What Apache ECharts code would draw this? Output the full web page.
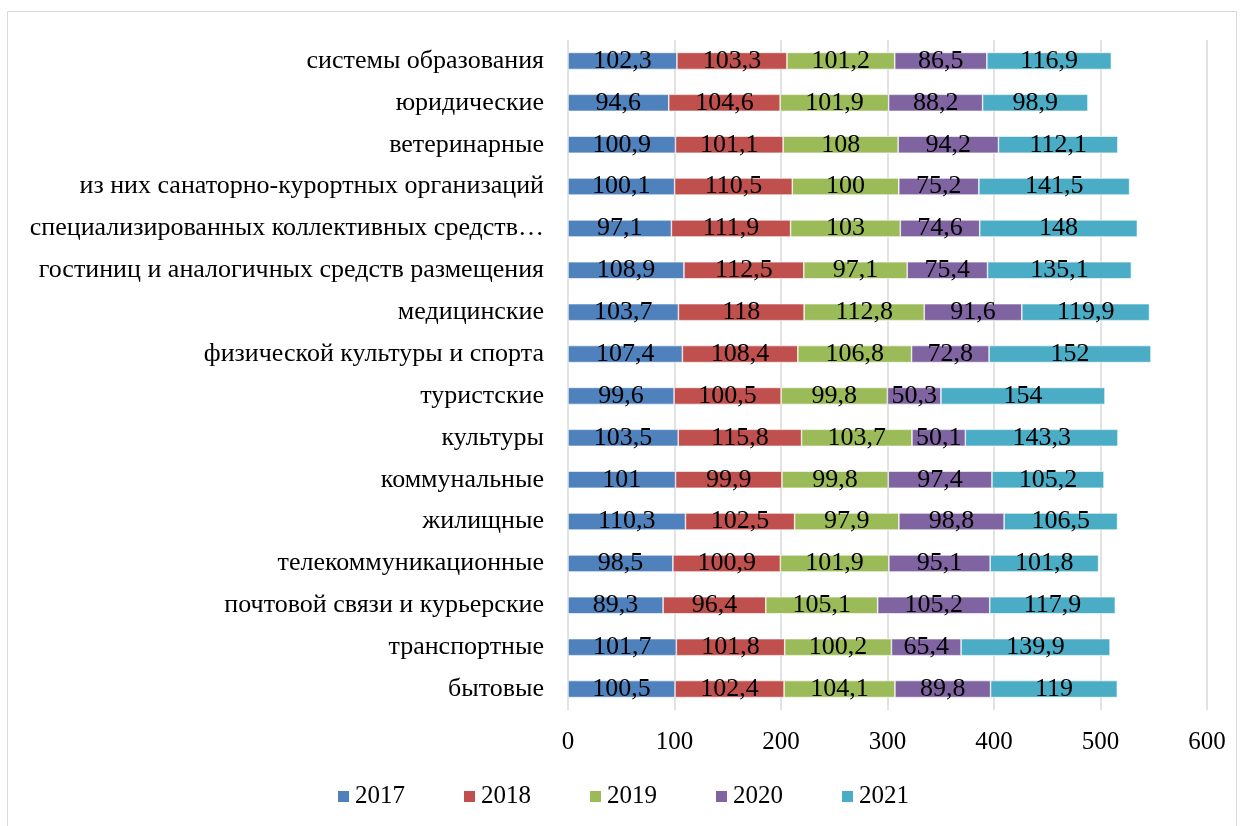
<!DOCTYPE html>
<html>
<head>
<meta charset="utf-8">
<script src="https://cdn.jsdelivr.net/npm/echarts@6/dist/echarts.min.js"></script>
<style>
  html, body { margin: 0; padding: 0; background: #fff; }
  #chart { width: 1245px; height: 826px; }
</style>
</head>
<body>
<div id="chart"></div>
<script>
// категории снизу вверх (ось категорий в echarts идёт снизу)
var categories = [
  'бытовые',
  'транспортные',
  'почтовой связи и курьерские',
  'телекоммуникационные',
  'жилищные',
  'коммунальные',
  'культуры',
  'туристские',
  'физической культуры и спорта',
  'медицинские',
  'гостиниц и аналогичных средств размещения',
  'специализированных коллективных средств…',
  'из них санаторно-курортных организаций',
  'ветеринарные',
  'юридические',
  'системы образования'
]
var years = ['2017', '2018', '2019', '2020', '2021']

var v2017 = [100.5, 101.7, 89.3, 98.5, 110.3, 101, 103.5, 99.6, 107.4, 103.7, 108.9, 97.1, 100.1, 100.9, 94.6, 102.3]
var v2018 = [102.4, 101.8, 96.4, 100.9, 102.5, 99.9, 115.8, 100.5, 108.4, 118, 112.5, 111.9, 110.5, 101.1, 104.6, 103.3]
var v2019 = [104.1, 100.2, 105.1, 101.9, 97.9, 99.8, 103.7, 99.8, 106.8, 112.8, 97.1, 103, 100, 108, 101.9, 101.2]
var v2020 = [89.8, 65.4, 105.2, 95.1, 98.8, 97.4, 50.1, 50.3, 72.8, 91.6, 75.4, 74.6, 75.2, 94.2, 88.2, 86.5]
var v2021 = [119, 139.9, 117.9, 101.8, 106.5, 105.2, 143.3, 154, 152, 119.9, 135.1, 148, 141.5, 112.1, 98.9, 116.9]
var xTicks = [0, 100, 200, 300, 400, 500, 600]

var colors = ['#4f81bd', '#c0504d', '#9bbb59', '#8064a2', '#4bacc6']
var font = '"Liberation Serif", "Times New Roman", serif'

var chart = echarts.init(document.getElementById('chart'))

var values = [v2017, v2018, v2019, v2020, v2021]
var series = years.map(function (y, i) {
  return {
    name: y,
    type: 'bar',
    stack: 'total',
    barWidth: 17,
    data: values[i],
    itemStyle: { color: colors[i], borderColor: '#fff', borderWidth: 0.6 },
    label: {
      show: true,
      position: 'inside',
      color: '#000',
      fontFamily: font,
      fontSize: 26,
      formatter: function (p) {
        return String(p.value).replace('.', ',')
      }
    }
  }
})

var option = {
  color: colors,
  animation: false,
  textStyle: { fontFamily: font },
  graphic: [{
    type: 'rect',
    shape: { x: 7.5, y: 11.5, width: 1229, height: 830 },
    style: { fill: 'none', stroke: '#d9d9d9', lineWidth: 1 },
    silent: true
  }],
  grid: {
    left: 568,
    right: 38,
    top: 40,
    bottom: 116
  },
  legend: {
    data: years,
    bottom: 12,
    left: 'center',
    itemWidth: 13,
    itemHeight: 13,
    itemGap: 57,
    icon: 'rect',
    textStyle: { fontFamily: font, fontSize: 25, color: '#000' }
  },
  xAxis: {
    type: 'value',
    min: xTicks[0],
    max: xTicks[xTicks.length - 1],
    interval: 100,
    axisLine: { show: false },
    axisTick: { show: false },
    splitLine: { lineStyle: { color: '#d9d9d9', width: 1.5 } },
    axisLabel: { color: '#000', fontFamily: font, fontSize: 25, margin: 20 }
  },
  yAxis: {
    type: 'category',
    data: categories,
    axisLine: { show: false },
    axisTick: { show: false },
    axisLabel: { color: '#000', fontFamily: font, fontSize: 26, margin: 24 }
  },
  series: series
}

chart.setOption(option)
</script>
</body>
</html>
